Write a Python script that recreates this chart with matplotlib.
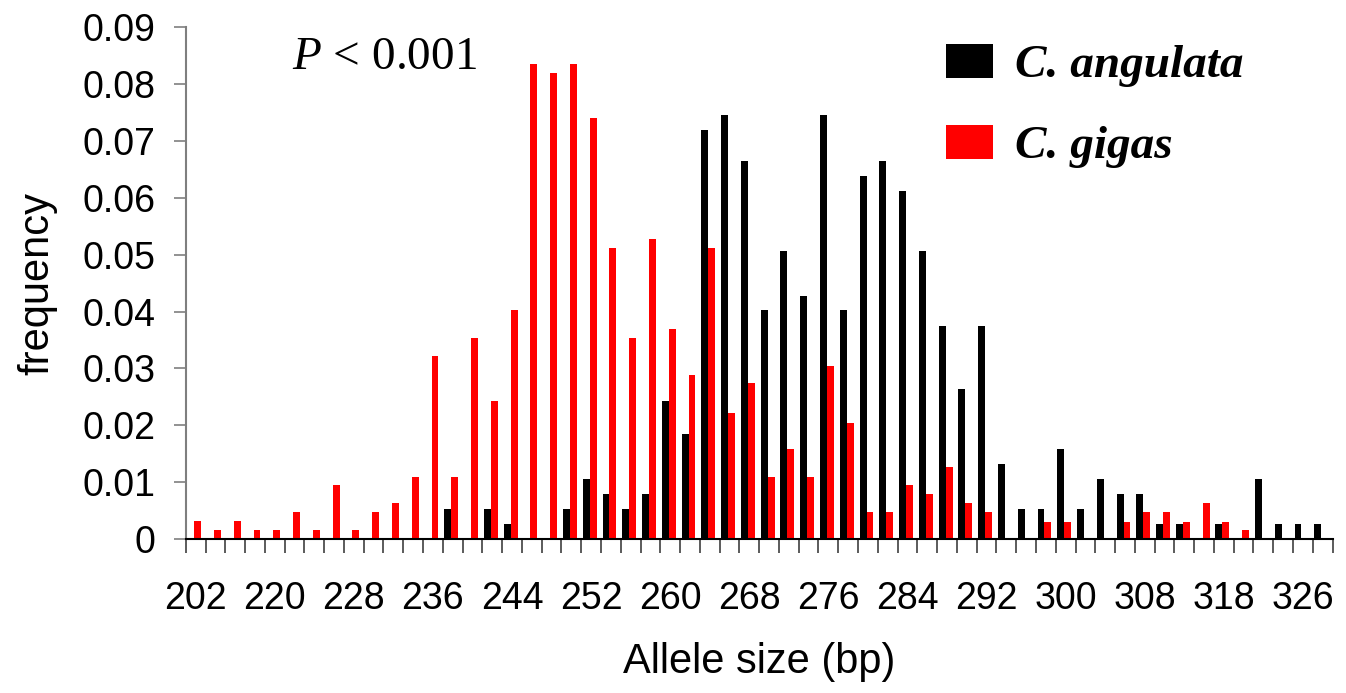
import numpy as np
import matplotlib
matplotlib.use('Agg')
import matplotlib.pyplot as plt
from matplotlib.ticker import FixedLocator, FixedFormatter

plt.rcParams['mathtext.fontset'] = 'custom'
plt.rcParams['mathtext.rm'] = 'Liberation Serif'
plt.rcParams['mathtext.it'] = 'Liberation Serif:italic'

# allele sizes (bp), one per bar group
sizes = [202, 214, 216, 218] + list(range(220, 314, 2)) + [316, 318, 320, 322, 324, 326, 328]

angulata = [0, 0, 0, 0, 0, 0, 0, 0, 0, 0,
            0, 0, 0, 0.0053, 0, 0.0053, 0.0026, 0, 0, 0.0053,
            0.0105, 0.0079, 0.0053, 0.0079, 0.0242, 0.0184, 0.0719, 0.0746, 0.0665, 0.0402,
            0.0507, 0.0428, 0.0746, 0.0402, 0.0639, 0.0665, 0.0612, 0.0507, 0.0375, 0.0263,
            0.0375, 0.0132, 0.0053, 0.0053, 0.0158, 0.0053, 0.0105, 0.0079, 0.0079, 0.0026,
            0.0026, 0, 0.0026, 0, 0.0105, 0.0026, 0.0026, 0.0026]

gigas = [0.0032, 0.0016, 0.0032, 0.0016, 0.0016, 0.0047, 0.0016, 0.0095, 0.0016, 0.0047,
         0.0063, 0.011, 0.0321, 0.011, 0.0353, 0.0242, 0.0402, 0.0835, 0.0819, 0.0835,
         0.074, 0.0512, 0.0353, 0.0528, 0.037, 0.0289, 0.0512, 0.0221, 0.0274, 0.011,
         0.0158, 0.011, 0.0305, 0.0205, 0.0047, 0.0047, 0.0095, 0.0079, 0.0126, 0.0063,
         0.0047, 0, 0, 0.0031, 0.0031, 0, 0, 0.0031, 0.0047, 0.0047,
         0.0031, 0.0063, 0.0031, 0.0016, 0, 0, 0, 0]

yticks = [0, 0.01, 0.02, 0.03, 0.04, 0.05, 0.06, 0.07, 0.08, 0.09]
ylabels = ['0', '0.01', '0.02', '0.03', '0.04', '0.05', '0.06', '0.07', '0.08', '0.09']

x = np.arange(len(sizes))
w = 0.35

fig = plt.figure(figsize=(13.46, 6.93), dpi=100)
ax = fig.add_axes([0.138, 0.222, 0.852, 0.739])

ax.bar(x - 0.245, angulata, width=w, color='black', label='C. angulata')
ax.bar(x + 0.105, gigas, width=w, color='#ff0000', label='C. gigas')

ax.set_xlim(-0.5, len(sizes) - 0.5)
ax.set_ylim(0, 0.09)

for s in ['top', 'right']:
    ax.spines[s].set_visible(False)
ax.spines['left'].set_color('#7f7f7f')
ax.spines['left'].set_linewidth(1.5)
ax.spines['bottom'].set_color('black')
ax.spines['bottom'].set_linewidth(1.5)

ax.set_yticks(yticks)
ax.yaxis.set_major_formatter(FixedFormatter(ylabels))
ax.tick_params(axis='y', direction='out', length=9, width=1.2, color='#7f7f7f',
               pad=13, labelsize=27)

ax.xaxis.set_major_locator(FixedLocator(x[::4]))
ax.xaxis.set_major_formatter(FixedFormatter([str(s) for s in sizes[::4]]))
ax.xaxis.set_minor_locator(FixedLocator(np.arange(len(sizes) + 1) - 0.5))
ax.tick_params(axis='x', which='major', length=0, pad=30, labelsize=27)
ax.tick_params(axis='x', which='minor', direction='out', length=10, width=1.2, color='#404040')

for lab in ax.get_xticklabels() + ax.get_yticklabels():
    lab.set_family('Liberation Sans')

ax.set_xlabel('Allele size (bp)', fontsize=30, family='Liberation Sans', labelpad=18)
ax.set_ylabel('frequency', fontsize=30, family='Liberation Sans', labelpad=18)

ax.text(0.173, 0.94, r'$P$ < 0.001', transform=ax.transAxes, ha='center', va='center',
        fontsize=34, family='Liberation Serif')

ax.legend(loc='upper left', bbox_to_anchor=(0.626, 1.05), frameon=False,
          prop={'family': 'Liberation Serif', 'style': 'italic', 'weight': 'bold', 'size': 34},
          handlelength=1.0, handleheight=0.72, handletextpad=0.45, labelspacing=0.8)

plt.savefig('out.png', dpi=100)
